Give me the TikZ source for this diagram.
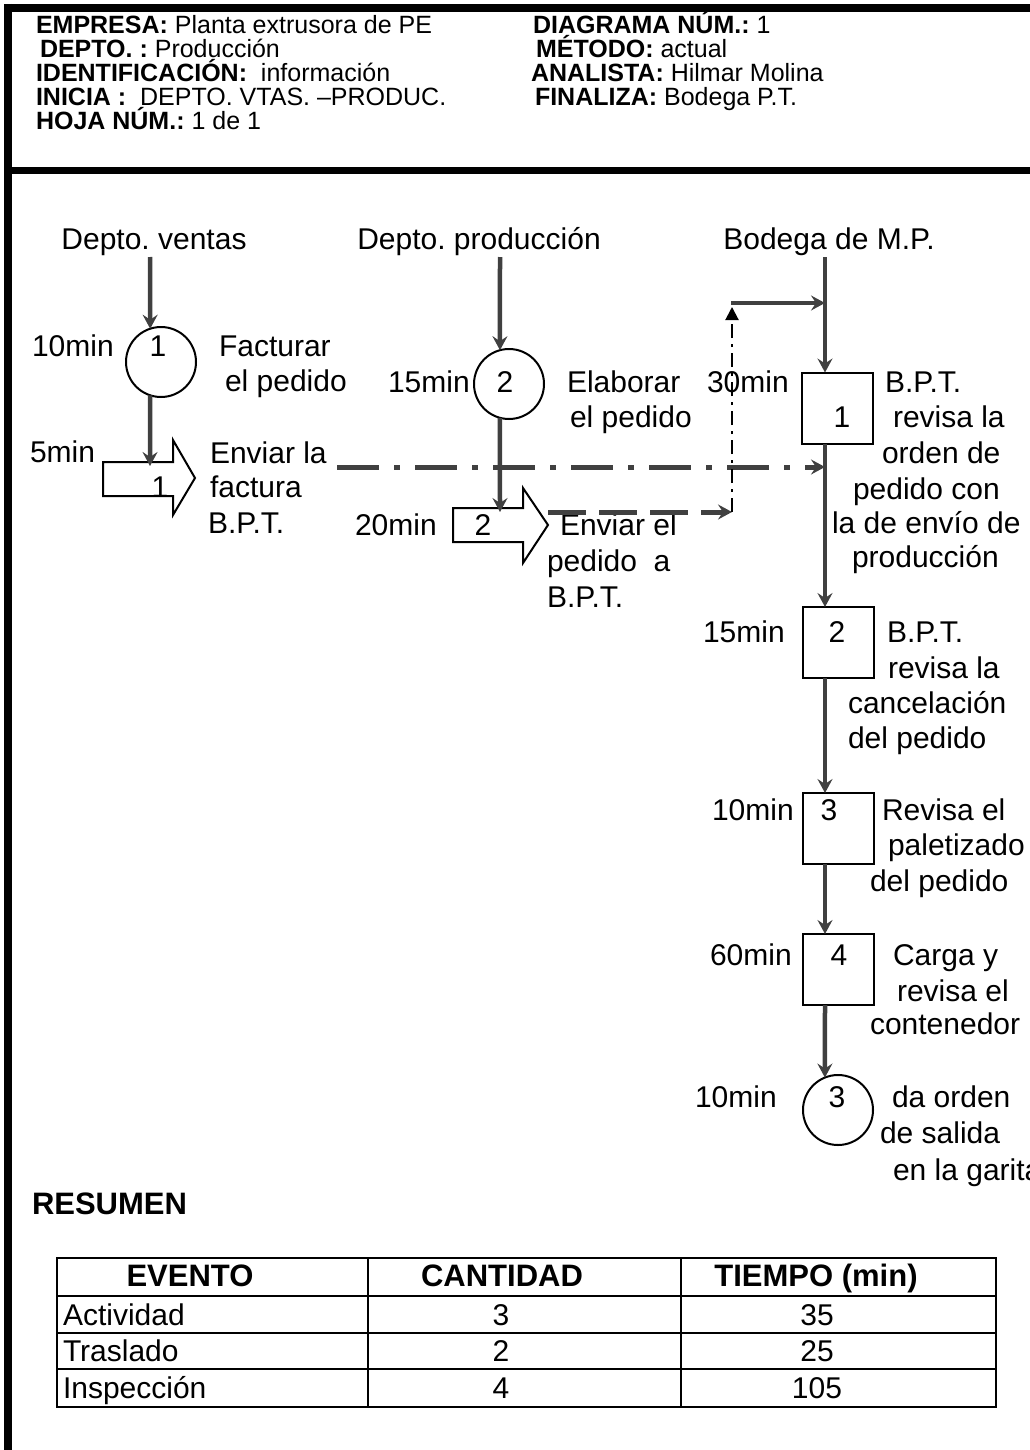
\documentclass[tikz,border=0pt]{standalone}
\usepackage{fontspec}
\setmainfont{Liberation Sans}
\usetikzlibrary{arrows.meta}
\definecolor{ln}{HTML}{404040}
\frenchspacing
\begin{document}
\begin{tikzpicture}[x=1pt,y=-1pt,
  every node/.style={inner sep=0pt, outer sep=0pt},
  txt/.style={font=\fontsize{30}{34}\selectfont, anchor=mid west, yshift=-8pt},
  txc/.style={font=\fontsize{30}{34}\selectfont, anchor=mid, yshift=-8pt},
  hdr/.style={font=\fontsize{25}{28}\selectfont, anchor=mid west},
  tbh/.style={font=\bfseries\fontsize{31}{34}\selectfont, anchor=mid, yshift=-7pt},
  tbd/.style={font=\fontsize{30}{33}\selectfont, anchor=mid, yshift=-7pt},
  tbl/.style={font=\fontsize{30}{33}\selectfont, anchor=mid west, yshift=-7pt},
  flow/.style={draw=ln, line width=4.5pt, -{Stealth[length=14pt,width=15pt,inset=5pt]}},
  circop/.style={draw=black, line width=2pt, circle, minimum size=70pt},
  inspbox/.style={draw=black, line width=2pt, rectangle, minimum width=71pt, minimum height=71pt},
  frameline/.style={draw=black, line width=8pt},
  blockarrow/.style={draw=black, line width=2pt, fill=white},
  tline/.style={draw=black, line width=2.5pt},
]
\useasboundingbox (0,0) rectangle (1029,1450);

% frame
\draw[frameline] (4,8) -- (1040,8);
\draw[frameline] (8,4) -- (8,1460);
\draw[draw=black, line width=7pt] (4,170.5) -- (1040,170.5);

% header
\node[hdr] (h1) at (36,31) {\textbf{EMPRESA:} Planta extrusora de PE};
\node[hdr] (h2) at (40,55) {\textbf{DEPTO. :} Producción};
\node[hdr] (h3) at (36,79) {\textbf{IDENTIFICACIÓN:}\ \ información};
\node[hdr] (h4) at (36,103) {\textbf{INICIA :}\ \ DEPTO. VTAS. –PRODUC.};
\node[hdr] (h5) at (36,127) {\textbf{HOJA NÚM.:} 1 de 1};
\node[hdr] (h6) at (533,31) {\textbf{DIAGRAMA NÚM.:} 1};
\node[hdr] (h7) at (536,55) {\textbf{MÉTODO:} actual};
\node[hdr] (h8) at (531,79) {\textbf{ANALISTA:} Hilmar Molina};
\node[hdr] (h9) at (535,103) {\textbf{FINALIZA:} Bodega P.T.};

% sources
\node[txc] (dv) at (154,239) {Depto. ventas};
\node[txc] (dp) at (479,239) {Depto. producción};
\node[txc] (bm) at (829,239) {Bodega de M.P.};

% shapes
\node[circop] (op1) at (161,362) {};
\node[circop] (op2) at (509,384) {};
\node[circop] (op3) at (838,1110) {};
\node[inspbox] (in1) at (837,408) {};
\node[inspbox] (in2) at (838,642.5) {};
\node[inspbox] (in3) at (838,828.5) {};
\node[inspbox] (in4) at (838,969.5) {};
\draw[blockarrow] (103,462) -- (173,462) -- (173,440) -- (195,478) -- (173,515) -- (173,496) -- (103,496) -- cycle;
\draw[blockarrow] (453,508) -- (523,508) -- (523,488) -- (548,525) -- (523,563) -- (523,542) -- (453,542) -- cycle;

% numbers
\node[txc] (n1) at (158,346) {1};
\node[txc] (n2) at (505,382) {2};
\node[txc] (n3) at (837,1097) {3};
\node[txc] (t1) at (160,487) {1};
\node[txc] (t2) at (483,525) {2};
\node[txc] (i1) at (842,417) {1};
\node[txc] (i2) at (837,632) {2};
\node[txc] (i3) at (829,810) {3};
\node[txc] (i4) at (839,955) {4};

% times
\node[txt] (m1) at (32,346) {10min};
\node[txt] (m2) at (30,452) {5min};
\node[txt] (m3) at (388,382) {15min};
\node[txt] (m4) at (355,525) {20min};
\node[txt] (m5) at (707,382) {30min};
\node[txt] (m6) at (703,632) {15min};
\node[txt] (m7) at (712,810) {10min};
\node[txt] (m8) at (710,955) {60min};
\node[txt] (m9) at (695,1097) {10min};

% descriptions
\node[txt] (d1a) at (219,346) {Facturar};
\node[txt] (d1b) at (225,381) {el pedido};
\node[txt] (d2a) at (210,453) {Enviar la};
\node[txt] (d2b) at (210,487) {factura};
\node[txt] (d2c) at (208,523) {B.P.T.};
\node[txt] (d3a) at (567,382) {Elaborar};
\node[txt] (d3b) at (570,417) {el pedido};
\node[txt] (d4a) at (560,525) {Enviar el};
\node[txt] (d4b) at (547,561) {pedido\ \ a};
\node[txt] (d4c) at (547,597) {B.P.T.};
\node[txt] (d5a) at (885,382) {B.P.T.};
\node[txt] (d5b) at (893,417) {revisa la};
\node[txt] (d5c) at (882,453) {orden de};
\node[txt] (d5d) at (853,489) {pedido con};
\node[txt] (d5e) at (832,523) {la de envío de};
\node[txt] (d5f) at (852,557) {producción};
\node[txt] (d6a) at (887,632) {B.P.T.};
\node[txt] (d6b) at (888,668) {revisa la};
\node[txt] (d6c) at (848,703) {cancelación};
\node[txt] (d6d) at (848,738) {del pedido};
\node[txt] (d7a) at (882,810) {Revisa el};
\node[txt] (d7b) at (888,845) {paletizado};
\node[txt] (d7c) at (870,881) {del pedido};
\node[txt] (d8a) at (893,955) {Carga y};
\node[txt] (d8b) at (897,991) {revisa el};
\node[txt] (d8c) at (870,1024) {contenedor};
\node[txt] (d9a) at (892,1097) {da orden};
\node[txt] (d9b) at (880,1133) {de salida};
\node[txt] (d9c) at (893,1170) {en la garita};

% connector coordinates
\coordinate (vStart) at (150,257);
\coordinate (pStart) at (500,257);
\coordinate (bStart) at (825,257);
\coordinate (tr1in) at (150,466);
\coordinate (tr2in) at (500,512);
\coordinate (dd1s) at (337,467);
\coordinate (ds2s) at (548,512);
\coordinate (vup) at (732,512);
\coordinate (vtop) at (732,307);
\coordinate (hstart) at (731,303);

% connectors
\draw[flow] (vStart) -- (op1.108);
\draw[flow] (op1.252) -- (tr1in);
\draw[flow] (pStart) -- (op2.105);
\draw[flow] (op2.255) -- (tr2in);
\draw[flow] (bStart) -- (bStart |- in1.north);
\draw[flow] (in1.south -| bStart) -- (bStart |- in2.north);
\draw[flow] (in2.south -| bStart) -- (bStart |- in3.north);
\draw[flow] (in3.south -| bStart) -- (bStart |- in4.north);
\draw[flow] (in4.south -| bStart) -- (op3.112);
\draw[flow, line width=5pt, dash pattern=on 42pt off 15pt on 6pt off 15pt] (dd1s) -- (dd1s -| bStart);
\draw[flow, line width=5pt, dash pattern=on 38pt off 13pt] (ds2s) -- (vup);
\draw[draw=black, line width=2pt, dash pattern=on 14pt off 6pt on 3pt off 6pt, -{Triangle[length=13pt,width=13pt]}] (vup) -- (vtop);
\draw[flow] (hstart) -- (hstart -| bStart);

% summary
\node[font=\bfseries\fontsize{31}{34}\selectfont, anchor=mid west, yshift=-8pt] (res) at (32,1204) {RESUMEN};
\draw[tline] (57,1258) rectangle (996,1407);
\draw[tline] (57,1296) -- (996,1296);
\draw[tline] (57,1333) -- (996,1333);
\draw[tline] (57,1369) -- (996,1369);
\draw[tline] (368,1258) -- (368,1407);
\draw[tline] (681,1258) -- (681,1407);
\node[tbh] (th1) at (190,1277) {EVENTO};
\node[tbh] (th2) at (502,1277) {CANTIDAD};
\node[tbh] (th3) at (816,1277) {TIEMPO (min)};
\node[tbl] (r1) at (63,1316) {Actividad};
\node[tbl] (r2) at (63,1352) {Traslado};
\node[tbl] (r3) at (63,1389) {Inspección};
\node[tbd] (c1) at (501,1316) {3};
\node[tbd] (c2) at (501,1352) {2};
\node[tbd] (c3) at (501,1389) {4};
\node[tbd] (e1) at (817,1316) {35};
\node[tbd] (e2) at (817,1352) {25};
\node[tbd] (e3) at (817,1389) {105};
\end{tikzpicture}
\end{document}
